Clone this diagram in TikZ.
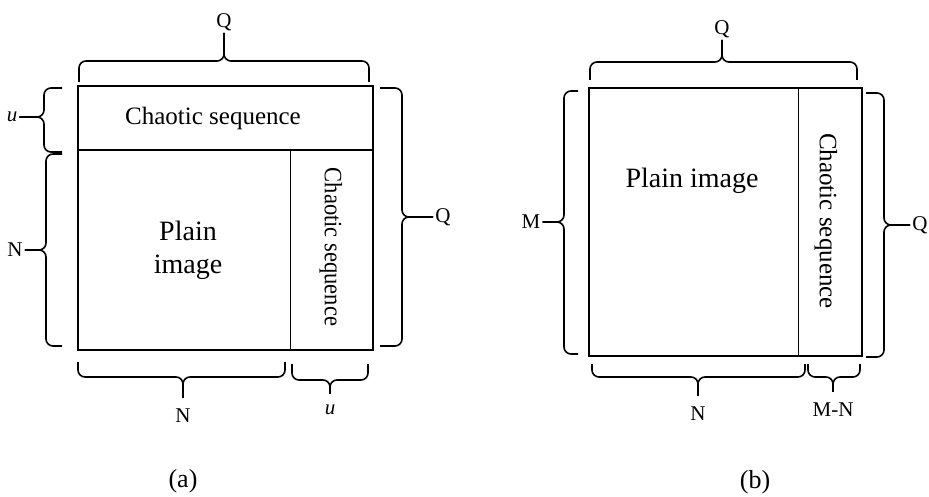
\documentclass[tikz,border=0pt]{standalone}
\usepackage{fontspec}
\setmainfont{Liberation Serif}
\usepackage{graphicx}

\begin{document}
\begin{tikzpicture}[x=1pt, y=-1pt,
    frame/.style={line width=1.8pt},
    split/.style={line width=1pt},
    curly/.style={line width=1.6pt, rounded corners=7pt},
    gap/.style={shorten >=9pt},
    lbl/.style={font=\fontsize{21}{24}\selectfont, inner sep=2pt},
    big/.style={font=\fontsize{28}{33}\selectfont, align=center},
    seq/.style={font=\fontsize{25}{28}\selectfont},
    subcap/.style={font=\fontsize{26}{28}\selectfont}]
    \useasboundingbox (0,0) rectangle (929,497);

    % (a): blocks
    \draw[frame] (78,86) rectangle (373,350);
    \draw[line width=1.4pt] (78,150) -- (373,150);
    \draw[split] (290,150) -- (290,350);
    \node[seq] (seqtopA) at (213,118) {Chaotic sequence};
    \node[big] (plainA) at (188,250) {Plain\\image};
    \node[seq, rotate=-90] (seqsideA) at (331,247) {\scalebox{0.9}[1]{Chaotic sequence}};

    % (a): labels
    \node[lbl] (qtopA) at (224,22) {Q};
    \node[lbl] (uleftA) at (12,117) {\itshape u};
    \node[lbl] (nleftA) at (15,250) {N};
    \node[lbl] (qrightA) at (443,217) {Q};
    \node[lbl] (nbotA) at (183,416) {N};
    \node[lbl] (ubotA) at (330,410) {\itshape u};
    \node[subcap] (capA) at (183,481) {(a)};

    % (a): braces
    \draw[curly] (79,82) |- (224,61) -- (qtopA);
    \draw[curly] (369,82) |- (224,61) -- (qtopA);
    \draw[curly] (62,88) -| (44,117) -- (uleftA);
    \draw[curly] (62,152) -| (44,117) -- (uleftA);
    \draw[curly] (62,154) -| (46,250) -- (nleftA);
    \draw[curly] (62,346) -| (46,250) -- (nleftA);
    \draw[curly] (380,88) -| (402,217) -- (qrightA);
    \draw[curly] (380,346) -| (402,217) -- (qrightA);
    \draw[curly, gap] (78,362) |- (183,377) -- (nbotA);
    \draw[curly, gap] (285,362) |- (183,377) -- (nbotA);
    \draw[curly, gap] (292,364) |- (330,380) -- (ubotA);
    \draw[curly, gap] (368,364) |- (330,380) -- (ubotA);

    % (b): blocks
    \draw[line width=1.3pt] (589,88) rectangle (862,356);
    \draw[split] (798,88) -- (798,356);
    \node[big] (plainB) at (692,181) {Plain image};
    \node[seq, rotate=-90] (seqsideB) at (826,221) {Chaotic sequence};

    % (b): labels
    \node[lbl] (qtopB) at (722,29) {Q};
    \node[lbl] (mleftB) at (531,222) {M};
    \node[lbl] (qrightB) at (920,225) {Q};
    \node[lbl] (nbotB) at (698,414) {N};
    \node[lbl] (mnbotB) at (833,410) {M-N};
    \node[subcap] (capB) at (755,482) {(b)};

    % (b): braces
    \draw[curly] (590,80) |- (722,62) -- (qtopB);
    \draw[curly] (857,80) |- (722,62) -- (qtopB);
    \draw[curly] (578,91) -| (564,222) -- (mleftB);
    \draw[curly] (578,354) -| (564,222) -- (mleftB);
    \draw[curly] (866,93) -| (884,225) -- (qrightB);
    \draw[curly] (866,357) -| (884,225) -- (qrightB);
    \draw[curly, gap] (592,364) |- (698,377) -- (nbotB);
    \draw[curly, gap] (805,364) |- (698,377) -- (nbotB);
    \draw[curly, gap] (808,364) |- (833,377) -- (mnbotB);
    \draw[curly, gap] (860,364) |- (833,377) -- (mnbotB);
\end{tikzpicture}
\end{document}
